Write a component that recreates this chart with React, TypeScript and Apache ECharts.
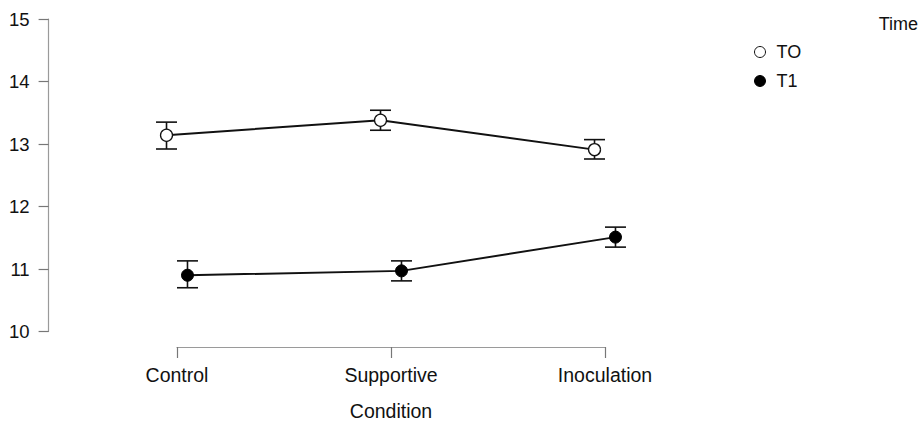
import React, { useEffect, useRef } from "react";
import * as echarts from "echarts";

const categories = ["Control", "Supportive", "Inoculation"];
const seriesNames = ["TO", "T1"];
const t0Mean = [13.14, 13.38, 12.91];
const t0Lower = [12.92, 13.22, 12.76];
const t0Upper = [13.35, 13.54, 13.07];
const t1Mean = [10.9, 10.97, 11.51];
const t1Lower = [10.7, 10.81, 11.35];
const t1Upper = [11.13, 11.13, 11.67];
const yTicks = [10, 11, 12, 13, 14, 15];

const DODGE = 0.049;
const FONT = "'Liberation Sans', Arial, Helvetica, sans-serif";

function errorSeries(name: string, lower: number[], upper: number[], offset: number) {
  return {
    type: "custom",
    name: name + "-err",
    xAxisIndex: 0,
    yAxisIndex: 0,
    z: 1,
    silent: true,
    data: categories.map((_, i) => [i + offset, lower[i], upper[i]]),
    renderItem: (params: any, api: any) => {
      const x = api.value(0);
      const lo = api.coord([x, api.value(1)]);
      const hi = api.coord([x, api.value(2)]);
      const half = 10.5;
      const style = { stroke: "#111", lineWidth: 1.6 };
      return {
        type: "group",
        children: [
          { type: "line", shape: { x1: lo[0], y1: lo[1], x2: hi[0], y2: hi[1] }, style },
          { type: "line", shape: { x1: lo[0] - half, y1: lo[1], x2: lo[0] + half, y2: lo[1] }, style },
          { type: "line", shape: { x1: hi[0] - half, y1: hi[1], x2: hi[0] + half, y2: hi[1] }, style },
        ],
      };
    },
  };
}

export default function App() {
  const ref = useRef<HTMLDivElement>(null);
  useEffect(() => {
    if (!ref.current) return;
    const chart = echarts.init(ref.current, null, { renderer: "svg" });
    const option: any = {
      animation: false,
      backgroundColor: "#ffffff",
      textStyle: { fontFamily: FONT },
      title: {
        text: "Time",
        right: 0,
        top: 10,
        padding: [5, 2, 5, 5],
        textStyle: { fontFamily: FONT, fontSize: 18, fontWeight: "normal", color: "#111" },
      },
      legend: {
        data: seriesNames,
        orient: "vertical",
        left: 749,
        top: 38,
        icon: "circle",
        itemWidth: 11,
        itemHeight: 11,
        itemGap: 11,
        itemStyle: { borderWidth: 1 },
        textStyle: { fontFamily: FONT, fontSize: 18, color: "#111", padding: [0, 0, 0, 6] },
      },
      grid: [
        { left: 48.6, width: 684.8, top: 19, height: 312.5 },
        { left: 177, width: 428, top: 338, height: 10 },
      ],
      xAxis: [
        { type: "value", gridIndex: 0, min: -0.6, max: 2.6, show: false },
        {
          type: "category",
          gridIndex: 1,
          data: categories,
          boundaryGap: false,
          position: "bottom",
          axisLine: { show: true, lineStyle: { color: "#9a9a9a", width: 1.2 } },
          axisTick: { show: true, length: 11, lineStyle: { color: "#777", width: 1.2 } },
          axisLabel: { margin: 18, fontSize: 19.5, color: "#111", fontFamily: FONT },
          splitLine: { show: false },
          name: "Condition",
          nameLocation: "middle",
          nameGap: 54,
          nameTextStyle: { fontSize: 19.5, color: "#111", fontFamily: FONT },
        },
      ],
      yAxis: [
        {
          type: "value",
          gridIndex: 0,
          min: 10,
          max: 15,
          interval: 1,
          axisLine: { show: true, onZero: false, lineStyle: { color: "#9a9a9a", width: 1.2 } },
          axisTick: { show: true, length: 10, lineStyle: { color: "#777", width: 1.2 } },
          axisLabel: {
            margin: 19,
            fontSize: 18.5,
            color: "#111",
            fontFamily: FONT,
            formatter: (v: number) => (yTicks.includes(v) ? String(v) : ""),
          },
          splitLine: { show: false },
        },
        { type: "value", gridIndex: 1, show: false },
      ],
      series: [
        errorSeries("TO", t0Lower, t0Upper, -DODGE),
        errorSeries("T1", t1Lower, t1Upper, DODGE),
        {
          type: "line",
          name: "TO",
          xAxisIndex: 0,
          yAxisIndex: 0,
          z: 3,
          data: categories.map((_, i) => [i - DODGE, t0Mean[i]]),
          symbol: "circle",
          symbolSize: 12,
          lineStyle: { color: "#111", width: 2 },
          itemStyle: { color: "#ffffff", borderColor: "#111", borderWidth: 1.3 },
        },
        {
          type: "line",
          name: "T1",
          xAxisIndex: 0,
          yAxisIndex: 0,
          z: 3,
          data: categories.map((_, i) => [i + DODGE, t1Mean[i]]),
          symbol: "circle",
          symbolSize: 12,
          lineStyle: { color: "#111", width: 2 },
          itemStyle: { color: "#000000", borderColor: "#000", borderWidth: 1 },
        },
      ],
    };
    chart.setOption(option);
    return () => chart.dispose();
  }, []);
  return (
    <div
      ref={ref}
      style={{ position: "fixed", left: 0, top: 0, width: 920, height: 422 }}
    />
  );
}
